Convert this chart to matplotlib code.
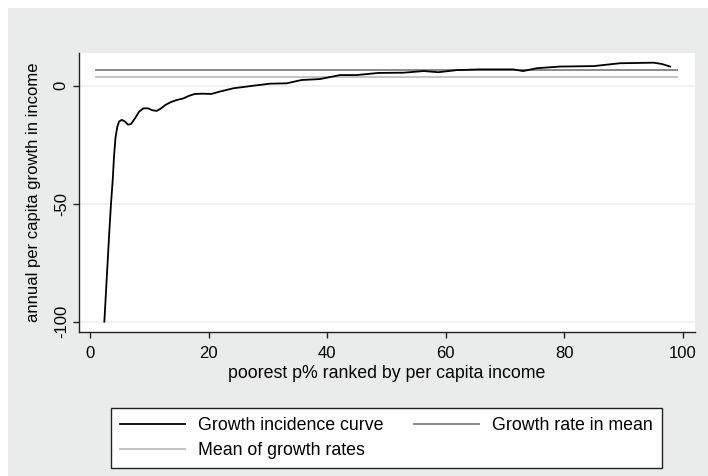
import matplotlib
matplotlib.use("Agg")
import matplotlib.pyplot as plt
from matplotlib.patches import Rectangle

plt.rcParams['font.family'] = ['Liberation Sans', 'DejaVu Sans']

# Growth incidence curve: percentile p vs annual per capita growth (%)
percentile = [2.42, 2.9, 3.3, 3.54, 3.83, 4.05, 4.3, 4.6, 4.9, 5.35, 5.9, 6.4,
              6.9, 7.6, 8.3, 9.0, 9.8, 10.5, 11.25, 12.0, 12.7, 13.6, 14.6,
              15.75, 16.7, 17.7, 19.0, 20.5, 21.9, 24.2, 27.6, 30.4, 33.2,
              35.7, 38.8, 42.2, 45.0, 48.7, 52.9, 56.3, 58.8, 61.9, 65.8,
              71.4, 73.1, 75.4, 79.3, 85.0, 89.4, 95.1, 96.5, 97.9]
growth = [-100, -78, -60, -50, -40, -30, -22, -17.5, -15.2, -14.5, -15.2,
          -16.5, -16.3, -13.8, -11.0, -9.6, -9.6, -10.4, -10.7, -9.6, -8.2,
          -7.0, -6.1, -5.4, -4.3, -3.5, -3.4, -3.5, -2.5, -1.1, 0.0, 0.85,
          1.0, 2.4, 2.8, 4.5, 4.5, 5.4, 5.5, 6.2, 5.7, 6.6, 6.9, 6.9, 6.2,
          7.4, 8.1, 8.3, 9.5, 9.75, 9.2, 8.1]

growth_rate_in_mean = 6.65
mean_of_growth_rates = 3.8
ref_span = [1, 99]

xticks = [0, 20, 40, 60, 80, 100]
yticks = [0, -50, -100]

W, H = 708, 476
FS = 12
FS_WIDE = 12.8
fig = plt.figure(figsize=(W / 100, H / 100), dpi=100)
fig.patch.set_facecolor('white')
fig.patches.append(Rectangle((8 / W, 0), 1 - 8 / W, 1 - 8 / H,
                             transform=fig.transFigure, facecolor='#eaeceb',
                             edgecolor='none', zorder=-10))

ax = fig.add_axes([79 / W, 1 - 332 / H, (695 - 79) / W, (332 - 53) / H])
ax.set_facecolor('white')

for yv in yticks:
    ax.axhline(yv, color='#edf0f0', lw=1.2, zorder=0)

l1, = ax.plot(percentile, growth, color='black', lw=1.3, zorder=3,
              label='Growth incidence curve')
l2, = ax.plot(ref_span, [growth_rate_in_mean] * 2, color='#8a8a8a', lw=1.4,
              zorder=2, label='Growth rate in mean')
l3, = ax.plot(ref_span, [mean_of_growth_rates] * 2, color='#c4c4c4', lw=1.4,
              zorder=2, label='Mean of growth rates')

ax.set_xlim(-1.86, 102.1)
ax.set_ylim(-104.4, 13.85)
ax.set_xticks(xticks)
ax.set_yticks(yticks)
ax.set_yticklabels([str(v) for v in yticks], rotation=90, va='center')

for s in ('top', 'right'):
    ax.spines[s].set_visible(False)
for s in ('left', 'bottom'):
    ax.spines[s].set_linewidth(1.0)
    ax.spines[s].set_color('#222222')
ax.tick_params(direction='out', length=4.3, width=1.0, color='#222222',
               labelsize=FS)
ax.tick_params(axis='x', pad=6)
ax.tick_params(axis='y', pad=3)

ax.set_xlabel('poorest p% ranked by per capita income', fontsize=FS_WIDE,
              labelpad=3)
ax.set_ylabel('annual per capita growth in income', fontsize=FS, labelpad=9)

leg = fig.legend([l1, l3, l2],
                 ['Growth incidence curve', 'Mean of growth rates',
                  'Growth rate in mean'],
                 loc='upper left', ncol=2, mode='expand',
                 bbox_to_anchor=(111 / W, 1 - 468 / H, 551 / W, 60 / H),
                 fontsize=FS_WIDE, frameon=True, fancybox=False,
                 handlelength=3.65, handletextpad=0.73, columnspacing=1.6,
                 borderaxespad=0, labelspacing=0.46, borderpad=0.5)
leg.get_frame().set_edgecolor('#222222')
leg.get_frame().set_linewidth(1.0)
leg.get_frame().set_facecolor('white')
leg.get_frame().set_alpha(1)

fig.savefig('out.png', dpi=100)
